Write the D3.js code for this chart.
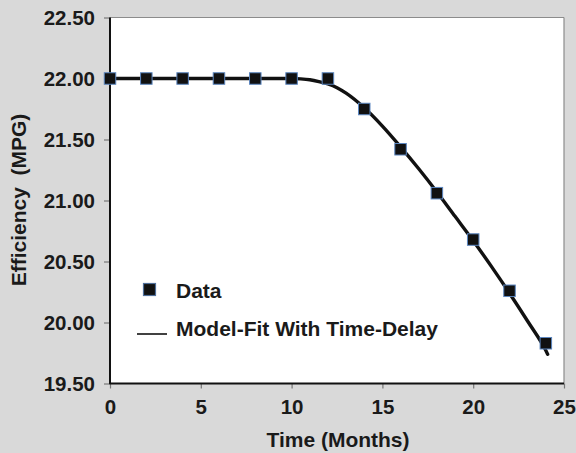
<!DOCTYPE html>
<html>
<head>
<meta charset="utf-8">
<script src="https://cdn.jsdelivr.net/npm/d3@7/dist/d3.min.js"></script>
<style>
  html, body { margin: 0; padding: 0; background: #d9d9d9; }
  svg { display: block; }
  text { font-family: "Liberation Sans", Arial, sans-serif; font-weight: bold; fill: #1a1a1a; }
</style>
</head>
<body>
<script>
// Measured fuel efficiency (months, MPG)
const dataMonths = [0, 2, 4, 6, 8, 10, 12, 14, 16, 18, 20, 22, 24];
const dataMPG = [22.00, 22.00, 22.00, 22.00, 22.00, 22.00, 22.00, 21.75, 21.42, 21.06, 20.68, 20.26, 19.83];

// Fitted time-delay model curve (months, MPG)
const fitMonths = [0, 2, 4, 6, 8, 9, 10, 10.5, 11, 11.5, 12, 12.5, 13, 14, 15, 16, 17, 18, 19, 20, 21, 22, 23, 24, 24.1];
const fitMPG = [22.00, 22.00, 22.00, 22.00, 22.00, 22.00, 22.00, 21.997, 21.99, 21.975, 21.955, 21.925, 21.88, 21.76, 21.61, 21.44, 21.26, 21.07, 20.87, 20.67, 20.46, 20.24, 20.01, 19.77, 19.74];

const xTicks = [0, 5, 10, 15, 20, 25];
const yTicks = [19.5, 20.0, 20.5, 21.0, 21.5, 22.0, 22.5];

const legendLabels = ["Data", "Model-Fit With Time-Delay"];
const xTitle = "Time (Months)";
const yTitle = "Efficiency\u00a0\u00a0(MPG)";

const W = 576, H = 453;
const m = { left: 110, right: 564, top: 17.5, bottom: 383.5 };

const svg = d3.select("body").append("svg").attr("width", W).attr("height", H);
svg.append("rect").attr("width", W).attr("height", H).attr("fill", "#d9d9d9");

const x = d3.scaleLinear().domain([0, 25]).range([m.left, m.right]);
const y = d3.scaleLinear().domain([19.5, 22.5]).range([m.bottom, m.top]);

// plot area
svg.append("rect")
  .attr("x", m.left).attr("y", m.top)
  .attr("width", m.right - m.left).attr("height", m.bottom - m.top)
  .attr("fill", "#ffffff");
// top and right frame
svg.append("line").attr("x1", m.left).attr("x2", m.right).attr("y1", m.top).attr("y2", m.top)
  .attr("stroke", "#8c8c8c").attr("stroke-width", 1);
svg.append("line").attr("x1", m.right).attr("x2", m.right).attr("y1", m.top).attr("y2", m.bottom)
  .attr("stroke", "#8c8c8c").attr("stroke-width", 1.2);

// axes
const xAxis = d3.axisBottom(x).tickValues(xTicks).tickFormat(d3.format("d")).tickSize(5).tickPadding(11);
const yAxis = d3.axisLeft(y).tickValues(yTicks).tickFormat(d3.format(".2f")).tickSize(6).tickPadding(9);

const gx = svg.append("g").attr("transform", `translate(0,${m.bottom})`).call(xAxis);
const gy = svg.append("g").attr("transform", `translate(${m.left},0)`).call(yAxis);
[gx, gy].forEach(g => {
  g.select(".domain").remove();
  g.selectAll(".tick line").attr("stroke", "#777").attr("stroke-width", 1.2);
  g.selectAll(".tick text").style("font-size", "20.5px").attr("fill", "#1a1a1a");
});
gx.selectAll(".tick text").attr("dy", "0.72em");
// axis lines
svg.append("line").attr("x1", m.left).attr("x2", m.left).attr("y1", m.top).attr("y2", m.bottom + 0.5)
  .attr("stroke", "#111").attr("stroke-width", 2);
svg.append("line").attr("x1", m.left - 0.5).attr("x2", m.right).attr("y1", m.bottom).attr("y2", m.bottom)
  .attr("stroke", "#111").attr("stroke-width", 2);

// axis titles
svg.append("text").attr("x", 338).attr("y", 447).attr("text-anchor", "middle")
  .style("font-size", "21px").text(xTitle);
svg.append("text").attr("transform", "translate(26,200) rotate(-90)").attr("text-anchor", "middle")
  .style("font-size", "21px").text(yTitle);

// fitted curve
const fit = fitMonths.map((t, i) => [t, fitMPG[i]]);
const line = d3.line().x(d => x(d[0])).y(d => y(d[1])).curve(d3.curveMonotoneX);
svg.append("path").datum(fit).attr("d", line)
  .attr("fill", "none").attr("stroke", "#111").attr("stroke-width", 3.4).attr("stroke-linecap", "round");

// data markers
const s = 11.5;
svg.append("g").selectAll("rect").data(dataMonths.map((t, i) => [t, dataMPG[i]])).join("rect")
  .attr("x", d => x(d[0]) - s / 2).attr("y", d => y(d[1]) - s / 2)
  .attr("width", s).attr("height", s)
  .attr("fill", "#111").attr("stroke", "#5b86c0").attr("stroke-width", 1);

// legend
const lg = svg.append("g");
lg.append("rect").attr("x", 143.5).attr("y", 283.5).attr("width", 12).attr("height", 12)
  .attr("fill", "#111").attr("stroke", "#4f6f9a").attr("stroke-width", 1.2);
lg.append("text").attr("x", 176).attr("y", 298).style("font-size", "21px").text(legendLabels[0]);
lg.append("line").attr("x1", 137).attr("x2", 167).attr("y1", 334).attr("y2", 334)
  .attr("stroke", "#111").attr("stroke-width", 1.6);
lg.append("text").attr("x", 176).attr("y", 336).style("font-size", "21px").text(legendLabels[1]);
</script>
</body>
</html>
